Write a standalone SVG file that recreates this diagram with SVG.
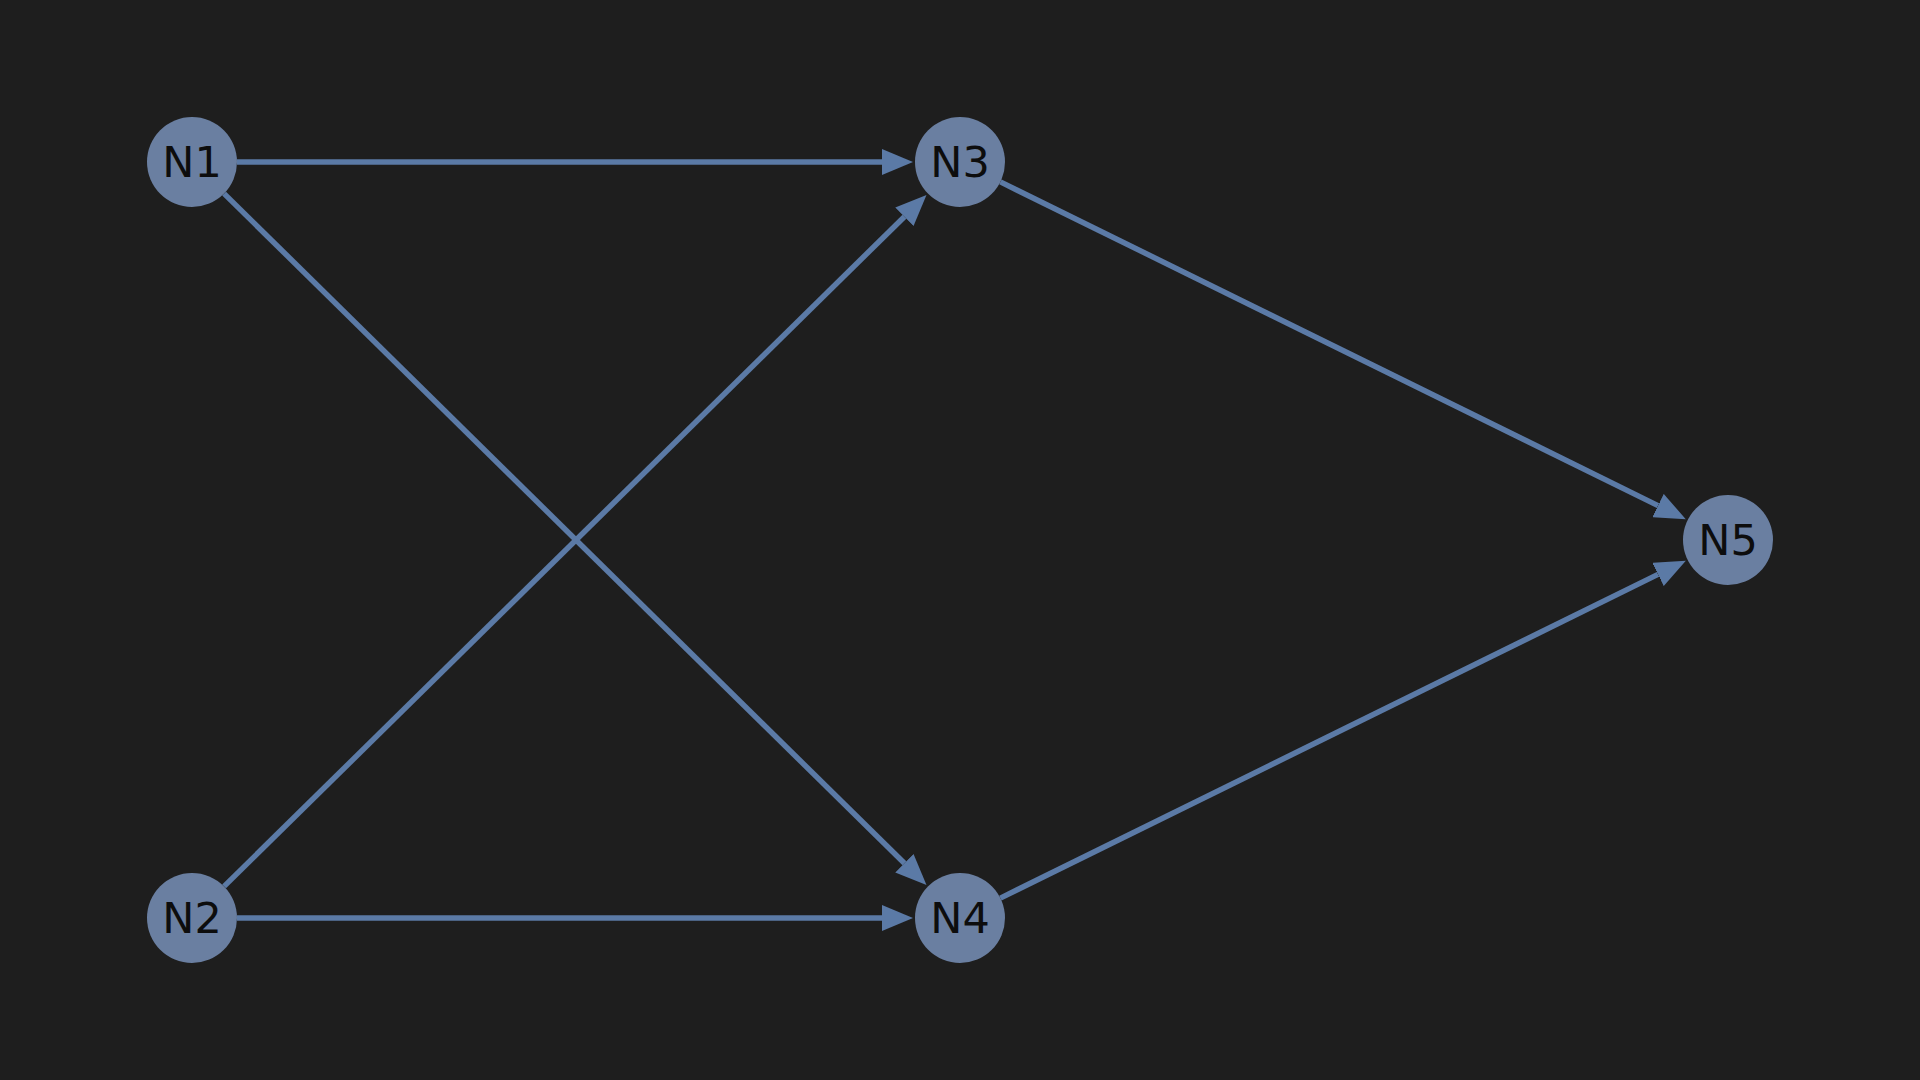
<svg xmlns="http://www.w3.org/2000/svg" width="1920" height="1080" viewBox="0 0 1920 1080">
<defs>
<marker id="arr" markerUnits="userSpaceOnUse" markerWidth="32" markerHeight="26" refX="0" refY="13" orient="auto">
<path d="M0,0 L31,13 L0,26 z" fill="#5b7aa6"/>
</marker>
<style>
.edge{stroke:#5b7aa6;stroke-width:5.5;fill:none;marker-end:url(#arr)}
.node circle{fill:#6a7fa1}
.node text{font-family:"DejaVu Sans",sans-serif;font-size:43px;fill:#0d0d0d;text-anchor:middle;dominant-baseline:central}
</style>
</defs>
<rect width="1920" height="1080" fill="#1e1e1e"/>
<g id="connectors">
<line class="edge" x1="237" y1="162" x2="882" y2="162"/>
<line class="edge" x1="237" y1="918" x2="882" y2="918"/>
<line class="edge" x1="224.1" y1="193.6" x2="904.4" y2="863.3"/>
<line class="edge" x1="224.1" y1="886.4" x2="904.4" y2="216.7"/>
<line class="edge" x1="1000.4" y1="181.9" x2="1658.0" y2="505.6"/>
<line class="edge" x1="1000.4" y1="898.1" x2="1658.0" y2="574.4"/>
</g>
<g id="N1" class="node"><circle cx="192" cy="162" r="45"/><text x="192" y="162">N1</text></g>
<g id="N2" class="node"><circle cx="192" cy="918" r="45"/><text x="192" y="918">N2</text></g>
<g id="N3" class="node"><circle cx="960" cy="162" r="45"/><text x="960" y="162">N3</text></g>
<g id="N4" class="node"><circle cx="960" cy="918" r="45"/><text x="960" y="918">N4</text></g>
<g id="N5" class="node"><circle cx="1728" cy="540" r="45"/><text x="1728" y="540">N5</text></g>
</svg>
